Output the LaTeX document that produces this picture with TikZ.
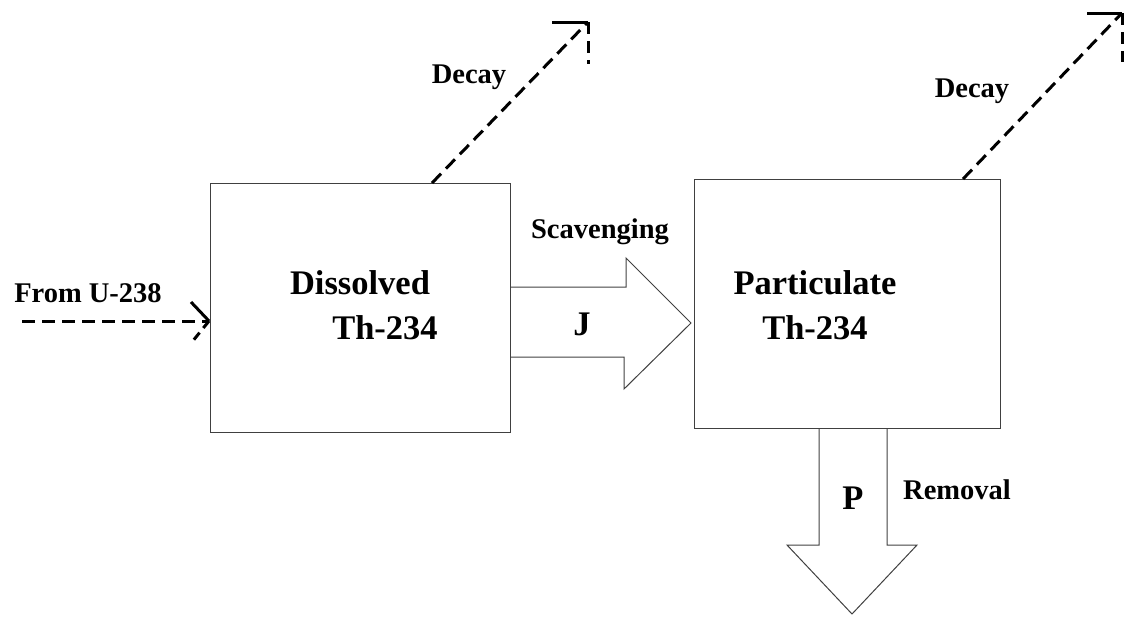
\documentclass[tikz,border=0pt]{standalone}
\usepackage{fontspec}
\setmainfont{Liberation Serif}
\begin{document}
\begin{tikzpicture}[x=1pt,y=-1pt,
  box/.style={draw=black!75,line width=1pt,rectangle,inner sep=0pt},
  bigtxt/.style={font=\fontsize{34.5}{38}\selectfont\bfseries,inner sep=0pt,anchor=center},
  smalltxt/.style={font=\fontsize{28.5}{31}\selectfont\bfseries,inner sep=0pt,anchor=center},
  dashline/.style={draw=black,line width=3pt,dash pattern=on 13pt off 7pt},
  tipleg/.style={draw=black,line width=3pt},
  blockarrow/.style={draw=black!75,line width=1pt,line join=miter}]
\useasboundingbox (0,0) rectangle (1126,616);

% boxes
\node[box,minimum width=300pt,minimum height=249pt] (dis) at (360,307.5) {};
\node[box,minimum width=306pt,minimum height=249pt] (par) at (847,303.5) {};

% box texts
\node[bigtxt] (dis1) at (360,283) {Dissolved};
\node[bigtxt] (dis2) at (385,328) {Th-234};
\node[bigtxt] (par1) at (815,283) {Particulate};
\node[bigtxt] (par2) at (815,328) {Th-234};

% From U-238
\coordinate (u0) at (22,321);
\coordinate (u1) at (209,321);
\draw[dashline] (u0) -- (u1);
\draw[tipleg] (191,302) -- (u1);
\draw[dashline,dash pattern=on 9pt off 6pt] (u1) -- (192,342);
\node[smalltxt] (from) at (88,293) {From U-238};

% Decay 1
\coordinate (d1a) at (432,183);
\coordinate (d1b) at (588,22);
\draw[dashline] (d1a) -- (d1b);
\draw[tipleg] (552,22) -- (d1b);
\draw[dashline,dash pattern=on 12pt off 7pt] (d1b) -- (588,64);
\node[smalltxt] (dec1) at (469,77) {Decay};

% Decay 2
\coordinate (d2a) at (963,179);
\coordinate (d2b) at (1122,13);
\draw[dashline] (d2a) -- (d2b);
\draw[tipleg] (1087,13) -- (d2b);
\draw[dashline,dash pattern=on 12pt off 7pt] (d2b) -- (1122,62);
\node[smalltxt] (dec2) at (972,91) {Decay};

% Scavenging arrow J
\draw[blockarrow] (510,287) -- (626,287) -- (626,258) -- (691,323) -- (624,389) -- (624,357) -- (510,357);
\node[smalltxt] (scav) at (600,232) {Scavenging};
\node[bigtxt] (J) at (582,324) {J};

% Removal arrow P
\draw[blockarrow] (819,428) -- (819,545) -- (787,545) -- (852,614) -- (917,545) -- (887,545) -- (887,428);
\node[bigtxt] (P) at (853,498) {P};
\node[smalltxt] (rem) at (957,490) {Removal};
\end{tikzpicture}
\end{document}
